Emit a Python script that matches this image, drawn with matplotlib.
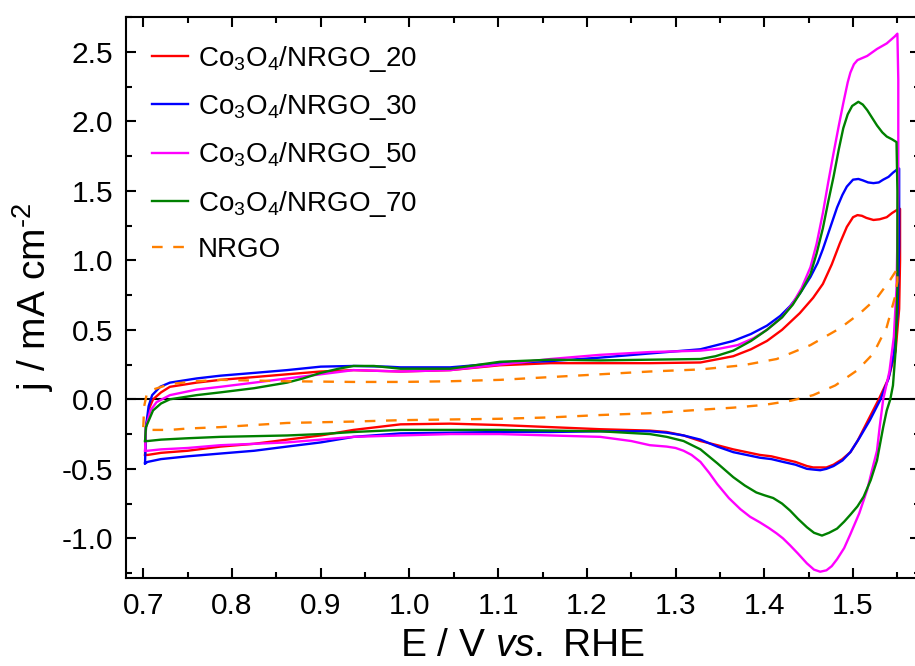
import numpy as np
import matplotlib
matplotlib.use("Agg")
import matplotlib.pyplot as plt
from matplotlib.ticker import MultipleLocator, FormatStrFormatter

plt.rcParams["font.family"] = ["Liberation Sans", "DejaVu Sans"]
plt.rcParams["mathtext.fontset"] = "custom"
plt.rcParams["mathtext.rm"] = "Liberation Sans"
plt.rcParams["mathtext.it"] = "Liberation Sans:italic"
plt.rcParams["axes.unicode_minus"] = False

# --- data (E in V vs RHE, j in mA cm^-2) ---
# each CV is split in the anodic (forward) and cathodic (reverse) scan

red_fwd_E = [0.702, 0.703, 0.707, 0.711, 0.720, 0.730, 0.760, 0.787, 0.825, 0.862, 0.900, 0.937,
             0.990, 1.046, 1.102, 1.159, 1.215, 1.271, 1.328, 1.365, 1.385, 1.403, 1.420, 1.440,
             1.455, 1.466, 1.476, 1.485, 1.493, 1.500, 1.505, 1.510, 1.515, 1.523, 1.530, 1.538,
             1.544, 1.549, 1.552]
red_fwd_j = [-0.40, -0.20, -0.06, 0.00, 0.05, 0.09, 0.12, 0.14, 0.16, 0.18, 0.20, 0.21,
             0.20, 0.21, 0.245, 0.26, 0.26, 0.26, 0.265, 0.31, 0.36, 0.42, 0.50, 0.62,
             0.73, 0.83, 0.97, 1.12, 1.24, 1.31, 1.325, 1.32, 1.305, 1.29, 1.295, 1.31,
             1.34, 1.36, 1.37]
red_rev_E = [1.553, 1.553, 1.552, 1.548, 1.540, 1.529, 1.517, 1.505, 1.497, 1.488, 1.478, 1.470,
             1.463, 1.455, 1.448, 1.435, 1.421, 1.408, 1.395, 1.380, 1.365, 1.347, 1.328, 1.309,
             1.290, 1.271, 1.215, 1.159, 1.102, 1.046, 0.990, 0.937, 0.900, 0.862, 0.825, 0.787,
             0.750, 0.720, 0.705, 0.702]
red_rev_j = [1.37, 1.00, 0.65, 0.35, 0.15, 0.00, -0.15, -0.30, -0.38, -0.43, -0.47, -0.49,
             -0.49, -0.49, -0.48, -0.45, -0.43, -0.41, -0.40, -0.38, -0.36, -0.33, -0.30, -0.26,
             -0.235, -0.225, -0.215, -0.20, -0.185, -0.175, -0.18, -0.22, -0.26, -0.29, -0.32, -0.34,
             -0.37, -0.385, -0.40, -0.40]

blue_fwd_E = [0.702, 0.703, 0.706, 0.710, 0.719, 0.730, 0.760, 0.787, 0.825, 0.862, 0.900, 0.937,
              0.975, 0.990, 1.046, 1.102, 1.159, 1.215, 1.271, 1.328, 1.365, 1.385, 1.403, 1.418,
              1.429, 1.440, 1.452, 1.460, 1.466, 1.474, 1.482, 1.488, 1.493, 1.500, 1.506, 1.511,
              1.517, 1.523, 1.529, 1.534, 1.540, 1.545, 1.551]
blue_fwd_j = [-0.46, -0.20, -0.05, 0.03, 0.09, 0.12, 0.15, 0.17, 0.19, 0.21, 0.235, 0.24,
              0.235, 0.23, 0.23, 0.26, 0.275, 0.30, 0.33, 0.36, 0.42, 0.47, 0.53, 0.60,
              0.67, 0.76, 0.88, 0.98, 1.08, 1.23, 1.38, 1.47, 1.53, 1.58, 1.585, 1.575,
              1.56, 1.555, 1.56, 1.58, 1.60, 1.63, 1.66]
blue_rev_E = [1.552, 1.552, 1.550, 1.546, 1.540, 1.531, 1.519, 1.507, 1.497, 1.488, 1.478, 1.470,
              1.463, 1.455, 1.448, 1.435, 1.421, 1.408, 1.395, 1.380, 1.365, 1.347, 1.328, 1.309,
              1.290, 1.271, 1.215, 1.159, 1.102, 1.046, 0.990, 0.937, 0.900, 0.862, 0.825, 0.787,
              0.750, 0.720, 0.705, 0.702]
blue_rev_j = [1.66, 1.10, 0.60, 0.33, 0.15, 0.00, -0.15, -0.28, -0.38, -0.44, -0.48, -0.50,
              -0.51, -0.505, -0.50, -0.47, -0.45, -0.43, -0.42, -0.40, -0.38, -0.34, -0.29, -0.26,
              -0.24, -0.23, -0.23, -0.235, -0.235, -0.24, -0.245, -0.27, -0.31, -0.34, -0.37, -0.39,
              -0.41, -0.43, -0.45, -0.46]

mag_fwd_E = [0.702, 0.703, 0.708, 0.715, 0.730, 0.760, 0.787, 0.825, 0.862, 0.900, 0.937, 0.990,
             1.046, 1.102, 1.159, 1.215, 1.271, 1.328, 1.350, 1.370, 1.388, 1.403, 1.420, 1.432,
             1.442, 1.452, 1.459, 1.466, 1.472, 1.478, 1.484, 1.489, 1.494, 1.497, 1.501, 1.505,
             1.516, 1.527, 1.538, 1.547, 1.550]
mag_fwd_j = [-0.37, -0.20, -0.08, -0.02, 0.03, 0.07, 0.09, 0.12, 0.15, 0.18, 0.21, 0.20,
             0.21, 0.25, 0.29, 0.32, 0.34, 0.35, 0.365, 0.39, 0.44, 0.50, 0.59, 0.69,
             0.80, 0.95, 1.12, 1.34, 1.56, 1.77, 1.97, 2.13, 2.28, 2.35, 2.41, 2.44,
             2.47, 2.52, 2.56, 2.61, 2.63]
mag_rev_E = [1.550, 1.551, 1.551, 1.549, 1.546, 1.541, 1.534, 1.530, 1.527, 1.521, 1.516, 1.507,
             1.497, 1.490, 1.482, 1.476, 1.470, 1.463, 1.456, 1.448, 1.438, 1.429, 1.421, 1.414,
             1.405, 1.395, 1.384, 1.373, 1.360, 1.347, 1.338, 1.328, 1.318, 1.309, 1.300, 1.290,
             1.271, 1.250, 1.215, 1.159, 1.102, 1.046, 0.990, 0.937, 0.900, 0.862, 0.825, 0.787,
             0.750, 0.720, 0.705, 0.702]
mag_rev_j = [2.63, 2.30, 1.50, 0.80, 0.45, 0.20, 0.00, -0.20, -0.37, -0.52, -0.65, -0.82,
             -0.97, -1.07, -1.15, -1.20, -1.23, -1.24, -1.225, -1.18, -1.11, -1.05, -1.00, -0.965,
             -0.925, -0.885, -0.845, -0.79, -0.71, -0.61, -0.53, -0.45, -0.40, -0.37, -0.35, -0.34,
             -0.33, -0.30, -0.27, -0.26, -0.25, -0.25, -0.26, -0.27, -0.29, -0.31, -0.32, -0.33,
             -0.35, -0.36, -0.37, -0.37]

grn_fwd_E = [0.702, 0.703, 0.711, 0.720, 0.730, 0.760, 0.787, 0.825, 0.862, 0.880, 0.900, 0.920,
             0.937, 0.960, 0.990, 1.046, 1.102, 1.159, 1.215, 1.271, 1.328, 1.345, 1.365, 1.385,
             1.403, 1.420, 1.432, 1.442, 1.452, 1.459, 1.466, 1.472, 1.478, 1.484, 1.489, 1.494,
             1.499, 1.506, 1.511, 1.516, 1.522, 1.527, 1.533, 1.538, 1.544, 1.549]
grn_fwd_j = [-0.30, -0.20, -0.08, -0.03, 0.00, 0.03, 0.05, 0.08, 0.12, 0.15, 0.19, 0.22,
             0.24, 0.24, 0.22, 0.22, 0.27, 0.285, 0.28, 0.285, 0.29, 0.31, 0.35, 0.42,
             0.50, 0.59, 0.68, 0.78, 0.90, 1.05, 1.23, 1.42, 1.60, 1.80, 1.95, 2.05,
             2.11, 2.14, 2.12, 2.08, 2.02, 1.97, 1.92, 1.89, 1.87, 1.85]
grn_rev_E = [1.549, 1.550, 1.550, 1.548, 1.545, 1.542, 1.538, 1.534, 1.527, 1.520, 1.512, 1.505,
             1.497, 1.490, 1.482, 1.473, 1.465, 1.456, 1.448, 1.438, 1.429, 1.420, 1.410, 1.400,
             1.391, 1.378, 1.365, 1.347, 1.328, 1.309, 1.290, 1.271, 1.215, 1.159, 1.102, 1.046,
             0.990, 0.937, 0.900, 0.862, 0.825, 0.787, 0.750, 0.720, 0.705, 0.702]
grn_rev_j = [1.85, 1.50, 0.80, 0.35, 0.10, 0.00, -0.08, -0.20, -0.44, -0.58, -0.70, -0.77,
             -0.83, -0.88, -0.93, -0.96, -0.98, -0.96, -0.92, -0.86, -0.80, -0.75, -0.71, -0.69,
             -0.67, -0.62, -0.56, -0.46, -0.36, -0.30, -0.27, -0.25, -0.23, -0.225, -0.22, -0.22,
             -0.22, -0.235, -0.25, -0.26, -0.265, -0.27, -0.28, -0.29, -0.30, -0.30]

nrgo_fwd_E = [0.700, 0.701, 0.704, 0.711, 0.730, 0.760, 0.787, 0.825, 0.862, 0.937, 0.990, 1.046,
              1.102, 1.159, 1.215, 1.271, 1.328, 1.376, 1.414, 1.452, 1.485, 1.508, 1.527, 1.542,
              1.550]
nrgo_fwd_j = [-0.20, -0.05, 0.04, 0.07, 0.11, 0.13, 0.14, 0.135, 0.13, 0.125, 0.125, 0.13,
              0.14, 0.16, 0.18, 0.20, 0.215, 0.245, 0.29, 0.39, 0.51, 0.62, 0.73, 0.86,
              0.94]
nrgo_rev_E = [1.550, 1.550, 1.547, 1.538, 1.523, 1.505, 1.480, 1.455, 1.430, 1.400, 1.365, 1.328,
              1.271, 1.215, 1.159, 1.102, 1.046, 0.990, 0.937, 0.862, 0.787, 0.750, 0.730, 0.710,
              0.702, 0.700]
nrgo_rev_j = [0.94, 0.85, 0.73, 0.52, 0.33, 0.21, 0.10, 0.03, -0.01, -0.04, -0.06, -0.075,
              -0.10, -0.113, -0.13, -0.14, -0.145, -0.15, -0.16, -0.17, -0.20, -0.21, -0.22, -0.22,
              -0.21, -0.20]

labels = [r"Co$_3$O$_4$/NRGO_20", r"Co$_3$O$_4$/NRGO_30", r"Co$_3$O$_4$/NRGO_50",
          r"Co$_3$O$_4$/NRGO_70", "NRGO"]
colors = ["#ff0000", "#0000ff", "#ff00ff", "#008000", "#ff8000"]

curves = [
    (red_fwd_E, red_fwd_j, red_rev_E, red_rev_j),
    (blue_fwd_E, blue_fwd_j, blue_rev_E, blue_rev_j),
    (mag_fwd_E, mag_fwd_j, mag_rev_E, mag_rev_j),
    (grn_fwd_E, grn_fwd_j, grn_rev_E, grn_rev_j),
    (nrgo_fwd_E, nrgo_fwd_j, nrgo_rev_E, nrgo_rev_j),
]

fig = plt.figure(figsize=(9.15, 6.66), dpi=100)
ax = fig.add_axes([0.1372, 0.1326, 0.8678, 0.8423])

ax.axhline(0, color="black", lw=1.5, zorder=1)

for (fE, fj, rE, rj), label, color in zip(curves, labels, colors):
    E = np.concatenate([fE, rE])
    j = np.concatenate([fj, rj])
    if label == "NRGO":
        ax.plot(E, j, color=color, lw=1.7, dashes=(4.5, 4.5), label=label, zorder=2)
    else:
        ax.plot(E, j, color=color, lw=1.7, label=label, zorder=2)

ax.set_xlim(0.68, 1.575)
ax.set_ylim(-1.283, 2.752)
ax.xaxis.set_major_locator(MultipleLocator(0.1))
ax.xaxis.set_minor_locator(MultipleLocator(0.05))
ax.yaxis.set_major_locator(MultipleLocator(0.5))
ax.yaxis.set_minor_locator(MultipleLocator(0.25))
ax.xaxis.set_major_formatter(FormatStrFormatter("%.1f"))
ax.yaxis.set_major_formatter(FormatStrFormatter("%.1f"))

ax.tick_params(which="both", direction="in", top=True, right=True, width=1.5, labelsize=21.5)
ax.tick_params(which="major", length=7)
ax.tick_params(which="minor", length=4)
ax.tick_params(axis="x", pad=10)
ax.tick_params(axis="y", pad=9)
for sp in ax.spines.values():
    sp.set_linewidth(1.5)

ax.set_xlabel(r"E / V $\mathit{vs.}$ RHE", fontsize=28, labelpad=6)
ax.set_ylabel("j / mA cm$^{\u20102}$", fontsize=28, labelpad=4)

ax.legend(loc="upper left", bbox_to_anchor=(0.033, 0.952), frameon=False, fontsize=20,
          handlelength=1.3, handletextpad=0.35, labelspacing=0.66, borderpad=0,
          borderaxespad=0)

fig.savefig("out.png", dpi=100)
